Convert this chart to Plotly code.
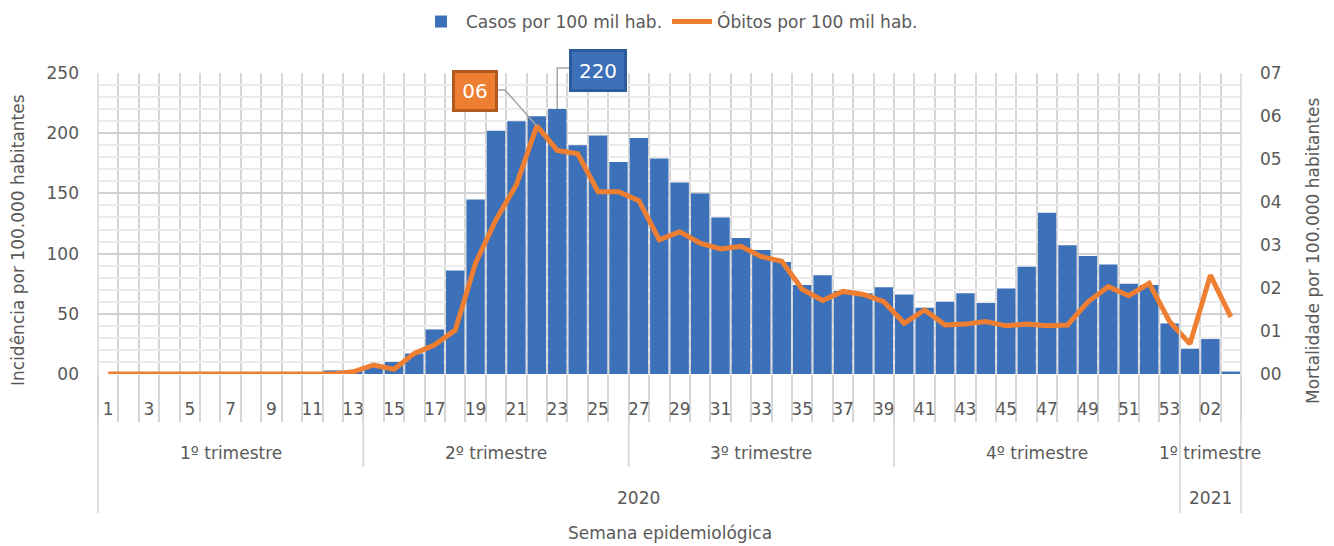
import plotly.graph_objects as go

# semanas epidemiologicas: 1..53 de 2020 + 01..03 de 2021
semanas = [str(i) for i in range(1, 54)] + ["01", "02", "03"]

casos = [0, 0, 0, 0, 0, 0, 0, 0, 0, 0, 0, 3, 3, 6, 10, 17, 37, 86, 145, 202,
         210, 214, 220, 190, 198, 176, 196, 179, 159, 150, 130, 113, 103, 93, 74, 82, 69, 67, 72, 66,
         55, 60, 67, 59, 71, 89, 134, 107, 98, 91, 75, 74, 42, 21, 29, 2]

obitos = [0, 0, 0, 0, 0, 0, 0, 0, 0, 0, 0, 0, 0.005, 0.021, 0.011, 0.048, 0.068, 0.102, 0.258, 0.359,
          0.44, 0.577, 0.52, 0.512, 0.424, 0.424, 0.403, 0.312, 0.331, 0.304, 0.291, 0.297, 0.273, 0.262, 0.197, 0.171,
          0.192, 0.185, 0.168, 0.118, 0.149, 0.114, 0.116, 0.122, 0.112, 0.116, 0.112, 0.114, 0.168, 0.203,
          0.182, 0.211, 0.122, 0.07, 0.23, 0.133]

trimestres = ["1º trimestre", "2º trimestre", "3º trimestre", "4º trimestre", "1º trimestre"]
semanas_por_trimestre = [13, 13, 13, 14, 3]
anos = ["2020", "2021"]
semanas_por_ano = [53, 3]

y_ticks = [0, 50, 100, 150, 200, 250]
y_ticktext = ["00", "50", "100", "150", "200", "250"]
y2_ticks = [0, 0.1, 0.2, 0.3, 0.4, 0.5, 0.6, 0.7]
y2_ticktext = ["00", "01", "02", "03", "04", "05", "06", "07"]

AZUL = "#3C70B8"
LARANJA = "#EE7E31"
CINZA = "#595959"
GRADE = "#D6D6D6"
FONTE = "DejaVu Sans"
FS = 17

# a pagina tem margem de 8px no body, por isso a figura e um pouco menor
W, H = 1326, 538
ML, MR, MT, MB = 90, 93, 65, 172
PW, PH = W - ML - MR, H - MT - MB
n = len(semanas)
x = list(range(n))


def px_x(dx):
    return dx / PW


def px_y(dy):
    return dy / PH


def rotulo(texto, xp, yp, **kw):
    d = dict(text=texto, xref="paper", yref="paper", x=xp, y=yp, showarrow=False,
             xanchor="center", yanchor="middle", font=dict(size=FS, color=CINZA, family=FONTE))
    d.update(kw)
    return d


fig = go.Figure()
fig.add_trace(go.Bar(x=x, y=casos, name="Casos por 100 mil hab.", marker_color=AZUL,
                     marker_line_width=0, yaxis="y"))
fig.add_trace(go.Scatter(x=x, y=obitos, name="Óbitos por 100 mil hab.", mode="lines",
                         line=dict(color=LARANJA, width=5), yaxis="y2"))

shapes = []
# separadores de trimestre
b = 0
for k in semanas_por_trimestre[:-1]:
    b += k
    shapes.append(dict(type="line", xref="paper", yref="paper", x0=b / n, x1=b / n,
                       y0=0, y1=-px_y(93), line=dict(color=GRADE, width=1.5)))
# separadores de ano e bordas
b = 0
for k in [0] + semanas_por_ano:
    b += k
    shapes.append(dict(type="line", xref="paper", yref="paper", x0=b / n, x1=b / n,
                       y0=1, y1=-px_y(139), line=dict(color=GRADE, width=1.5)))

annotations = []
b = 0
for t, k in zip(trimestres, semanas_por_trimestre):
    annotations.append(rotulo(t, (b + k / 2) / n, -px_y(79)))
    b += k
b = 0
for a, k in zip(anos, semanas_por_ano):
    annotations.append(rotulo(a, (b + k / 2) / n, -px_y(124)))
    b += k
annotations.append(rotulo("Semana epidemiológica", 0.5, -px_y(159)))
annotations.append(rotulo("Incidência por 100.000 habitantes", -px_x(80), px_y(134), textangle=-90))
annotations.append(rotulo("Mortalidade por 100.000 habitantes", 1 + px_x(72), px_y(123), textangle=-90))

# rotulos de destaque: pico de obitos e pico de casos
i_ob = obitos.index(max(obitos))
i_ca = casos.index(max(casos))
p_x, p_y = (i_ob + 0.5) / n, max(obitos) / y2_ticks[-1]
q_x, q_y = (i_ca + 0.5) / n, max(casos) / y_ticks[-1]

annotations.append(rotulo(y2_ticktext[round(max(obitos) * 10)], p_x - px_x(62), p_y + px_y(35),
                          bgcolor=LARANJA, bordercolor="#B15A1E", borderwidth=3, width=38, height=34,
                          font=dict(size=20, color="white", family=FONTE)))
annotations.append(rotulo(str(max(casos)), q_x + px_x(41), q_y + px_y(39),
                          bgcolor=AZUL, bordercolor="#2C5B9C", borderwidth=3, width=50, height=35,
                          font=dict(size=20, color="white", family=FONTE)))
shapes.append(dict(type="path", xref="paper", yref="paper", layer="above",
                   path=f"M {p_x} {p_y} L {p_x - px_x(32)} {p_y + px_y(36)} L {p_x - px_x(40)} {p_y + px_y(36)}",
                   line=dict(color="#A5A5A5", width=1.5)))
shapes.append(dict(type="path", xref="paper", yref="paper", layer="above",
                   path=f"M {q_x} {q_y} L {q_x} {q_y + px_y(41)} L {q_x + px_x(12)} {q_y + px_y(41)}",
                   line=dict(color="#A5A5A5", width=1.5)))

fig.update_layout(
    width=W, height=H,
    margin=dict(l=ML, r=MR, t=MT, b=MB, autoexpand=False),
    paper_bgcolor="white", plot_bgcolor="white",
    bargap=0.1,
    font=dict(family=FONTE, size=FS, color=CINZA),
    showlegend=True,
    legend=dict(orientation="h", x=0.5, xanchor="center", y=1 + px_y(51), yanchor="middle",
                font=dict(size=FS, color=CINZA), itemwidth=40),
    xaxis=dict(
        range=[-0.5, n - 0.5], tickmode="array", tickvals=x[::2], ticktext=semanas[::2],
        ticks="", ticklabelstandoff=23, showgrid=False, zeroline=False,
        tickfont=dict(size=FS, color=CINZA),
        minor=dict(dtick=1, tick0=0.5, showgrid=True, gridcolor=GRADE, gridwidth=1.5,
                   ticks="outside", ticklen=47, tickcolor=GRADE, tickwidth=1.5),
    ),
    yaxis=dict(
        range=[0, 250], tickmode="array", tickvals=y_ticks, ticktext=y_ticktext,
        showgrid=True, gridcolor="#D0D0D0", gridwidth=2, zeroline=False,
        ticklabelstandoff=18, tickfont=dict(size=FS, color=CINZA),
        minor=dict(dtick=10, showgrid=True, gridcolor="#EBEBEB", gridwidth=2),
    ),
    yaxis2=dict(
        range=[0, 0.7], overlaying="y", side="right", tickmode="array",
        tickvals=y2_ticks, ticktext=y2_ticktext, showgrid=False, zeroline=False,
        ticklabelstandoff=18, tickfont=dict(size=FS, color=CINZA),
    ),
    shapes=shapes,
    annotations=annotations,
)

fig.write_html("out.html")
